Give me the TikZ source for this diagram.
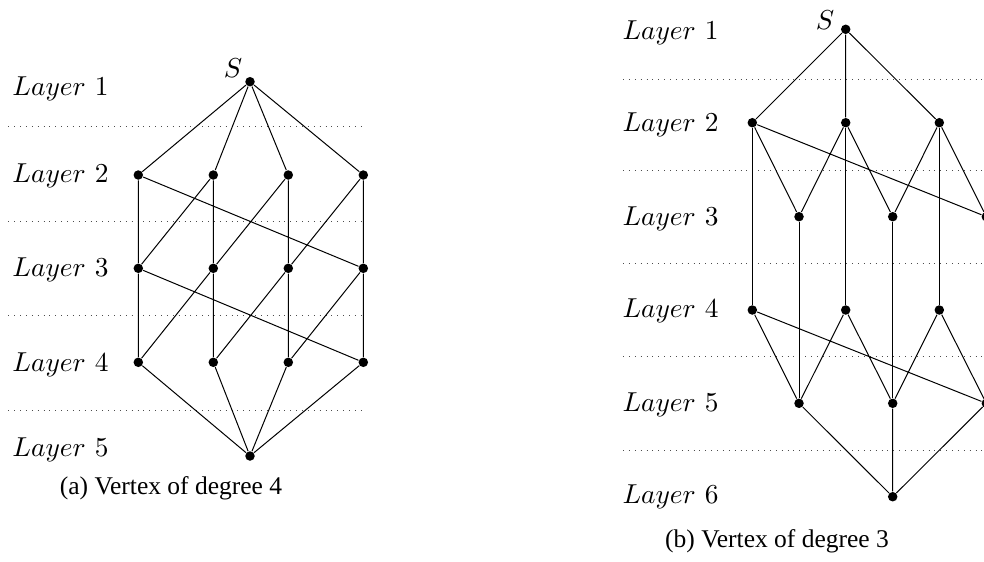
\documentclass[tikz,border=0pt]{standalone}
\usepackage{fontspec}
\newfontfamily\capfont{Liberation Serif}
\begin{document}
\begin{tikzpicture}[x=0.4pt,y=-0.4pt,
  dot/.style={circle,fill=black,inner sep=0pt,minimum size=3.8pt},
  edge/.style={line width=0.4pt,black},
  sep/.style={dotted,line width=0.35pt,black!70},
  lab/.style={anchor=base west,inner sep=0pt,font=\fontsize{10.8}{13}\selectfont},
  slab/.style={inner sep=0pt,font=\fontsize{11}{13}\selectfont},
  captext/.style={inner sep=0pt,font=\capfont\fontsize{10.2}{12}\selectfont}]
\useasboundingbox (0,0) rectangle (984,561);
% ---------- (a) ----------
\draw[sep] (8.3,126) -- (361,126);
\draw[sep] (8.3,221.7) -- (361,221.7);
\draw[sep] (8.3,315) -- (361,315);
\draw[sep] (8.3,410) -- (361,410);
\node[lab] (la1) at (12,95) {$Layer\ 1$};
\node[lab] (la2) at (12,182.7) {$Layer\ 2$};
\node[lab] (la3) at (12,276.7) {$Layer\ 3$};
\node[lab] (la4) at (12,371.7) {$Layer\ 4$};
\node[lab] (la5) at (12,456.7) {$Layer\ 5$};
\node[dot] (aS) at (250,81.7) {};
\node[slab] (aSl) at (233,68) {$S$};
\foreach \n/\x in {a/138.3,b/213.3,c/288.3,d/363.3}{
  \node[dot] (\n2) at (\x,175) {};
  \node[dot] (\n3) at (\x,268.3) {};
  \node[dot] (\n4) at (\x,362.3) {};
}
\node[dot] (aT) at (250,456) {};
\draw[edge] (aS) -- (a2) (aS) -- (b2) (aS) -- (c2) (aS) -- (d2);
\draw[edge] (a2) -- (a3) (a2) -- (d3) (b2) -- (a3) (b2) -- (b3)
            (c2) -- (b3) (c2) -- (c3) (d2) -- (c3) (d2) -- (d3);
\draw[edge] (a3) -- (a4) (a3) -- (d4) (b3) -- (a4) (b3) -- (b4)
            (c3) -- (b4) (c3) -- (c4) (d3) -- (c4) (d3) -- (d4);
\draw[edge] (a4) -- (aT) (b4) -- (aT) (c4) -- (aT) (d4) -- (aT);
\node[captext] (capa) at (171,488) {(a) Vertex of degree 4};
% ---------- (b) ----------
\foreach \y in {79,170,263.3,356.7,450}{
  \draw[sep] (623,\y) -- (1000,\y);
}
\node[lab] (lb1) at (622,39) {$Layer\ 1$};
\node[lab] (lb2) at (622,131) {$Layer\ 2$};
\node[lab] (lb3) at (622,225) {$Layer\ 3$};
\node[lab] (lb4) at (622,317.7) {$Layer\ 4$};
\node[lab] (lb5) at (622,411.7) {$Layer\ 5$};
\node[lab] (lb6) at (622,503.3) {$Layer\ 6$};
\node[dot] (bS) at (845.7,29.3) {};
\node[slab] (bSl) at (825,20) {$S$};
\node[dot] (p0) at (752.3,122.7) {};
\node[dot] (p2) at (845.7,122.7) {};
\node[dot] (p4) at (939.3,122.7) {};
\node[dot] (q1) at (799,216.7) {};
\node[dot] (q3) at (892.7,216.7) {};
\node[dot] (q5) at (986.3,216.7) {};
\node[dot] (r0) at (752.3,310) {};
\node[dot] (r2) at (845.7,310) {};
\node[dot] (r4) at (939.3,310) {};
\node[dot] (s1) at (799,403.3) {};
\node[dot] (s3) at (892.7,403.3) {};
\node[dot] (s5) at (986.3,403.3) {};
\node[dot] (bT) at (892.7,496.7) {};
\draw[edge] (bS) -- (p0) (bS) -- (p2) (bS) -- (p4);
\draw[edge] (p0) -- (q1) (p0) -- (q5) (p2) -- (q1) (p2) -- (q3) (p4) -- (q3) (p4) -- (q5);
\draw[edge] (p0) -- (r0) (p2) -- (r2) (p4) -- (r4);
\draw[edge] (q1) -- (s1) (q3) -- (s3) (q5) -- (s5);
\draw[edge] (r0) -- (s1) (r0) -- (s5) (r2) -- (s1) (r2) -- (s3) (r4) -- (s3) (r4) -- (s5);
\draw[edge] (s1) -- (bT) (s3) -- (bT) (s5) -- (bT);
\node[captext] (capb) at (777,541) {(b) Vertex of degree 3};
\end{tikzpicture}
\end{document}
